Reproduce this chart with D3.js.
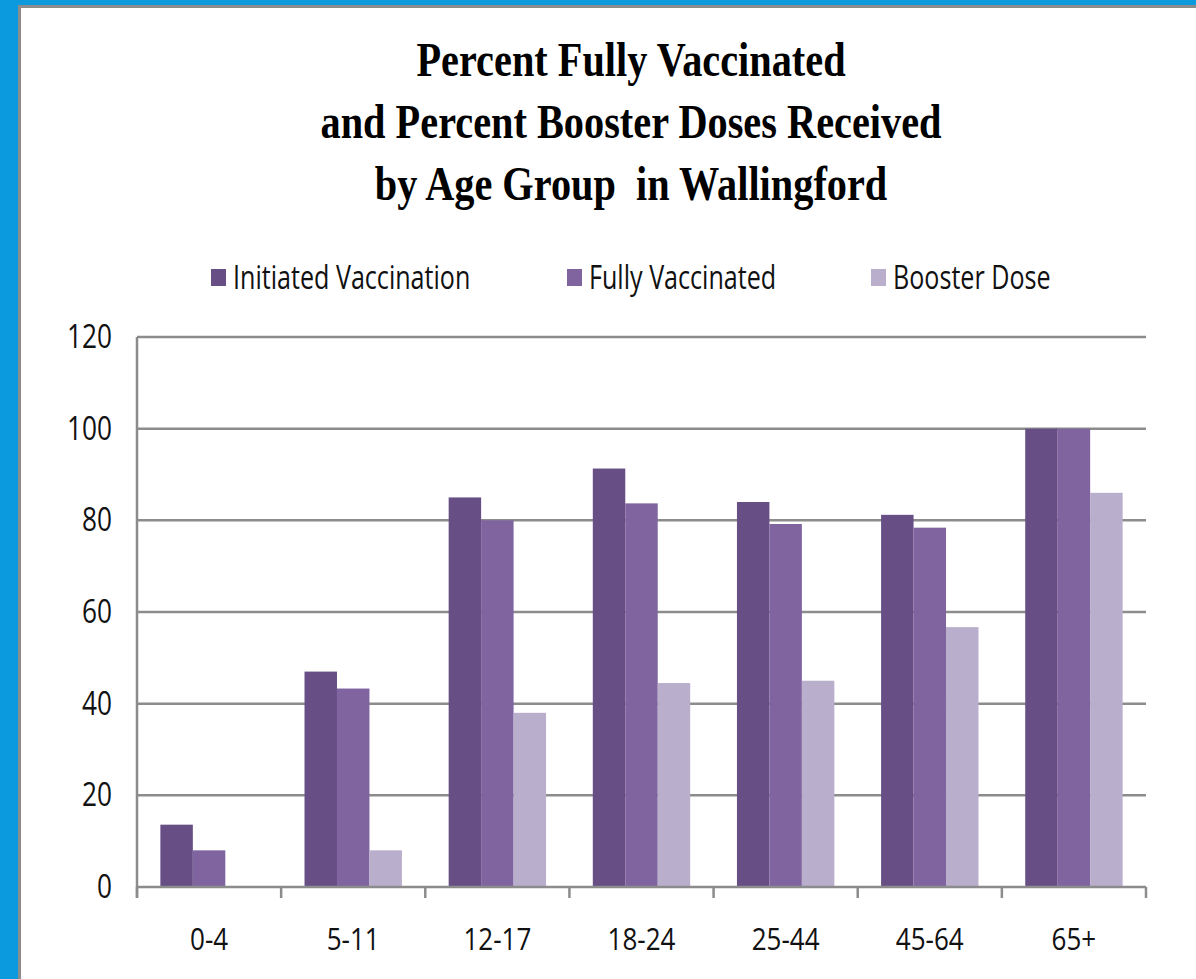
<!DOCTYPE html>
<html>
<head>
<meta charset="utf-8">
<script src="https://cdn.jsdelivr.net/npm/d3@7/dist/d3.min.js"></script>
<style>
  body { margin: 0; background: #fff; }
  svg { display: block; }
</style>
</head>
<body>
<svg id="chart"></svg>
<script>
var width = 1196, height = 979;

// data
var categories = ["0-4", "5-11", "12-17", "18-24", "25-44", "45-64", "65+"];
var initiated = [13.6, 47, 85, 91.3, 84, 81.2, 100];
var fully = [8, 43.3, 80, 83.7, 79.2, 78.4, 100];
var booster = [0, 8, 38, 44.5, 45, 56.7, 86];
var seriesNames = ["Initiated Vaccination", "Fully Vaccinated", "Booster Dose"];
var seriesColors = ["#674f86", "#7f64a0", "#b9aecb"];
var yTicks = [0, 20, 40, 60, 80, 100, 120];
var titleLines = ["Percent Fully Vaccinated", "and Percent Booster Doses Received", "by Age Group  in Wallingford"];

// the text in the original is horizontally narrow
var squishTitle = 0.84, squishLegend = 0.785, squishY = 0.82, squishX = 0.84;

var svg = d3.select("#chart")
    .attr("width", width)
    .attr("height", height);

// blue frame + white slide panel
svg.append("rect").attr("width", width).attr("height", height).attr("fill", "#0b9ade");
svg.append("rect")
    .attr("x", 19.5).attr("y", 6.5)
    .attr("width", width + 10).attr("height", height + 10)
    .attr("fill", "#fff")
    .attr("stroke", "#8c8c8c").attr("stroke-width", 3);

var margin = {left: 137, right: 50, top: 337, bottom: 92};

var x0 = d3.scaleBand()
    .domain(categories)
    .range([margin.left, width - margin.right])
    .paddingInner(0).paddingOuter(0);

var x1 = d3.scaleBand()
    .domain(d3.range(3))
    .range([0, x0.bandwidth()])
    .paddingInner(0).paddingOuter(0.72);

var y = d3.scaleLinear()
    .domain([0, 120])
    .range([height - margin.bottom, margin.top]);

function squeezed(g, tx, ty, str, anchor, k) {
    return g.append("text")
        .attr("transform", "translate(" + tx + "," + ty + ") scale(" + k + ",1)")
        .attr("text-anchor", anchor)
        .text(str);
}

// title
var title = svg.append("g")
    .attr("font-family", "'Liberation Serif', 'Times New Roman', serif")
    .attr("font-weight", "bold")
    .attr("font-size", 48)
    .attr("fill", "#000");
titleLines.forEach(function (t, i) {
    squeezed(title, 631, 76 + i * 62, t, "middle", squishTitle).attr("xml:space", "preserve");
});

// gridlines
var grid = svg.append("g");
grid.selectAll("line")
    .data(yTicks.filter(function (d) { return d > 0; }))
    .enter().append("line")
    .attr("x1", margin.left).attr("x2", width - margin.right)
    .attr("y1", function (d) { return y(d); })
    .attr("y2", function (d) { return y(d); })
    .attr("stroke", "#8c8c8c").attr("stroke-width", 2.5);

// bars
var series = [initiated, fully, booster];
var groups = svg.append("g").selectAll("g")
    .data(categories)
    .enter().append("g")
    .attr("transform", function (d) { return "translate(" + x0(d) + ",0)"; });

groups.selectAll("rect")
    .data(function (d, i) { return series.map(function (s, k) { return {k: k, v: s[i]}; }); })
    .enter().append("rect")
    .filter(function (d) { return d.v > 0; })
    .attr("x", function (d) { return x1(d.k); })
    .attr("width", x1.bandwidth())
    .attr("y", function (d) { return y(d.v); })
    .attr("height", function (d) { return y(0) - y(d.v); })
    .attr("fill", function (d) { return seriesColors[d.k]; });

// axes
var axisColor = "#8c8c8c";
svg.append("line")
    .attr("x1", margin.left).attr("x2", margin.left)
    .attr("y1", y(120)).attr("y2", y(0) + 11)
    .attr("stroke", axisColor).attr("stroke-width", 2.5);
svg.append("line")
    .attr("x1", margin.left).attr("x2", width - margin.right)
    .attr("y1", y(0)).attr("y2", y(0))
    .attr("stroke", axisColor).attr("stroke-width", 2.5);

var tickXs = categories.map(function (c) { return x0(c); }).concat([x0.range()[1]]);
svg.append("g").selectAll("line")
    .data(tickXs)
    .enter().append("line")
    .attr("x1", function (d) { return d; }).attr("x2", function (d) { return d; })
    .attr("y1", y(0)).attr("y2", y(0) + 11)
    .attr("stroke", axisColor).attr("stroke-width", 2.5);

var labelFont = "'Open Sans', 'Noto Sans', sans-serif";

var yLab = svg.append("g")
    .attr("font-family", labelFont).attr("font-size", 32).attr("fill", "#111");
yTicks.forEach(function (t) {
    squeezed(yLab, 112, y(t) + 11, t, "end", squishY);
});

var xLab = svg.append("g")
    .attr("font-family", labelFont).attr("font-size", 31).attr("fill", "#111");
categories.forEach(function (c) {
    squeezed(xLab, x0(c) + x0.bandwidth() / 2, 950, c, "middle", squishX);
});

// legend
var legendX = [211, 567, 871];
var legend = svg.append("g")
    .attr("font-family", labelFont).attr("font-size", 32).attr("fill", "#111");
seriesNames.forEach(function (n, i) {
    legend.append("rect")
        .attr("x", legendX[i]).attr("y", 269)
        .attr("width", 15).attr("height", 17)
        .attr("fill", seriesColors[i]);
    squeezed(legend, legendX[i] + 22, 289, n, "start", squishLegend);
});
</script>
</body>
</html>
